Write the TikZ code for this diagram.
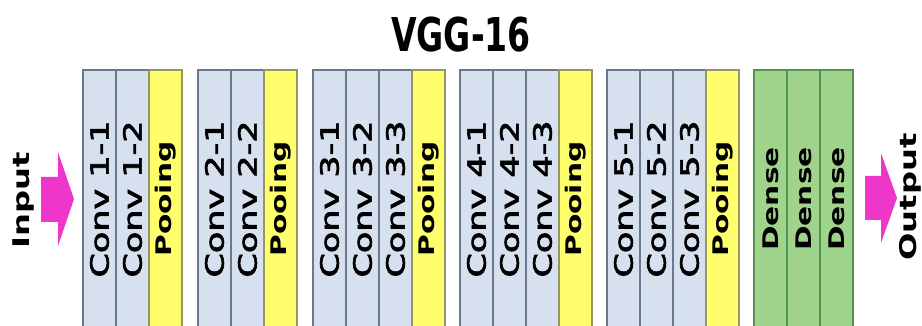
\documentclass[tikz,border=0pt]{standalone}
\usepackage{fontspec}
\usepackage{graphicx}
\setmainfont{DejaVu Sans}
\newfontfamily\convfont[FakeBold=2.5]{DejaVu Sans}
\definecolor{bluefill}{RGB}{214,224,238}
\definecolor{blueedge}{RGB}{105,120,138}
\definecolor{yellowfill}{RGB}{255,255,110}
\definecolor{yellowedge}{RGB}{150,150,100}
\definecolor{greenfill}{RGB}{160,212,140}
\definecolor{greenedge}{RGB}{80,150,80}
\definecolor{arrowpink}{RGB}{238,55,200}
\tikzset{
  colbase/.style={rectangle, rotate=90, line width=1.2pt, minimum width=258pt,
    minimum height=33pt, inner sep=0pt, anchor=center},
  convcol/.style={colbase, draw=blueedge, fill=bluefill,
    font=\convfont\fontsize{25}{25}\selectfont},
  poolcol/.style={colbase, draw=yellowedge, fill=yellowfill,
    font=\bfseries\fontsize{21.5}{21.5}\selectfont},
  densecol/.style={colbase, draw=greenedge, fill=greenfill,
    font=\bfseries\fontsize{21.5}{21.5}\selectfont},
  sidelabel/.style={rotate=90, inner sep=0pt, font=\bfseries\fontsize{23}{23}\selectfont},
  blockarrow/.style={fill=arrowpink}
}
\begin{document}
\begin{tikzpicture}[x=1pt,y=-1pt]
\fill[white] (0,0) rectangle (922,326);
\useasboundingbox (0,0) rectangle (922,326);
% title
\node[anchor=base, inner sep=0pt, font=\bfseries\fontsize{46.6}{47}\selectfont] (title) at (461,52) {\scalebox{0.71}[1]{VGG-16}};
% conv columns
\foreach \cx/\lb/\nm in {99.5/Conv 1-1/c11, 132.5/Conv 1-2/c12,
  214.5/Conv 2-1/c21, 247.5/Conv 2-2/c22,
  329.5/Conv 3-1/c31, 362.5/Conv 3-2/c32, 395.5/Conv 3-3/c33,
  476.5/Conv 4-1/c41, 509.5/Conv 4-2/c42, 542.5/Conv 4-3/c43,
  623.5/Conv 5-1/c51, 656.5/Conv 5-2/c52, 689.5/Conv 5-3/c53}
  \node[convcol] (\nm) at (\cx,199) {\scalebox{1.4}[1]{\lb}};
% pooling columns
\foreach \cx/\nm in {165.5/p1, 280.5/p2, 428.5/p3, 575.5/p4, 722.5/p5}
  \node[poolcol] (\nm) at (\cx,199) {\scalebox{1.38}[1]{Pooing}};
% dense columns
\foreach \cx/\nm in {770.5/d1, 803.5/d2, 836.5/d3}
  \node[densecol] (\nm) at (\cx,199) {\scalebox{1.38}[1]{Dense}};
% input / output labels
\node[sidelabel] (inlab) at (24,200) {\scalebox{1.4}[1]{Input}};
\node[sidelabel] (outlab) at (910,197) {\scalebox{1.4}[1]{Output}};
% block arrows
\coordinate (intip) at (74,199);
\coordinate (outtip) at (897,198);
\fill[blockarrow] (intip) -- ++(-16,-47) -- ++(0,25) -- ++(-17,0) -- ++(0,45)
  -- ++(17,0) -- ++(0,24) -- cycle;
\fill[blockarrow] (outtip) -- ++(-16,-45) -- ++(0,23) -- ++(-16,0) -- ++(0,44)
  -- ++(16,0) -- ++(0,23) -- cycle;
\end{tikzpicture}
\end{document}
